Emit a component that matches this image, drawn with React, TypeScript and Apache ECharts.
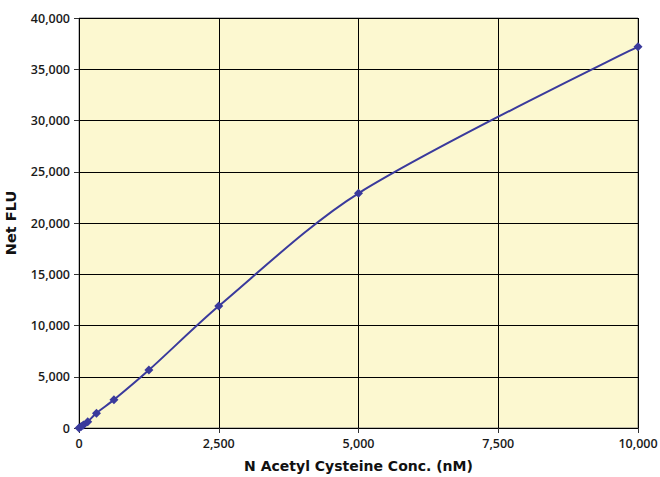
import React, { useEffect, useRef } from "react";
import * as echarts from "echarts";

const concentrations = [0, 39, 78, 156, 312.5, 625, 1250, 2500, 5000, 10000];
const netFlu = [0, 150, 300, 620, 1450, 2750, 5650, 11900, 22900, 37200];
const xTicks = [0, 2500, 5000, 7500, 10000];
const yTicks = [0, 5000, 10000, 15000, 20000, 25000, 30000, 35000, 40000];

const fmt = (v: number) => v.toLocaleString("en-US");

export default function App() {
  const ref = useRef<HTMLDivElement>(null);
  useEffect(() => {
    if (!ref.current) return;
    const chart = echarts.init(ref.current, null, { renderer: "svg" });
    const font = "'Open Sans', Lato, sans-serif";
    const titleFont = "'DejaVu Sans', 'Open Sans', sans-serif";
    chart.setOption({
      animation: false,
      grid: {
        left: 79,
        top: 18,
        right: 22,
        bottom: 49,
        containLabel: false,
        outerBoundsMode: "none",
        show: true,
        backgroundColor: "#fcf8d0",
        borderColor: "#808080",
        borderWidth: 1,
      },
      xAxis: {
        type: "value",
        min: xTicks[0],
        max: xTicks[xTicks.length - 1],
        interval: 2500,
        name: "N Acetyl Cysteine Conc. (nM)",
        nameLocation: "middle",
        nameGap: 31,
        nameTextStyle: { fontFamily: titleFont, fontSize: 14, fontWeight: "bold", color: "#111" },
        axisLine: { show: false },
        axisTick: { show: true, length: 5, lineStyle: { color: "#333" } },
        axisLabel: { fontFamily: font, fontSize: 12.5, fontWeight: 600, color: "#1a1a1a", margin: 9, formatter: (v: number) => fmt(v) },
        splitLine: { show: true, lineStyle: { color: "#000", width: 1 } },
      },
      yAxis: {
        type: "value",
        min: yTicks[0],
        max: yTicks[yTicks.length - 1],
        interval: 5000,
        name: "Net FLU",
        nameLocation: "middle",
        nameGap: 61,
        nameRotate: 90,
        nameTextStyle: { fontFamily: titleFont, fontSize: 14.5, fontWeight: "bold", color: "#111" },
        axisLine: { show: false },
        axisTick: { show: true, length: 5, lineStyle: { color: "#333" } },
        axisLabel: { fontFamily: font, fontSize: 12.5, fontWeight: 600, color: "#1a1a1a", margin: 9, formatter: (v: number) => fmt(v) },
        splitLine: { show: true, lineStyle: { color: "#000", width: 1 } },
      },
      series: [
        {
          type: "line",
          data: concentrations.map((c, i) => [c, netFlu[i]]),
          smooth: 0.3,
          symbol: "diamond",
          symbolSize: 9,
          lineStyle: { color: "#3a3a9c", width: 2 },
          itemStyle: { color: "#3a3a9c" },
        },
      ],
    });
    return () => chart.dispose();
  }, []);
  return (
    <div
      ref={ref}
      style={{ position: "absolute", left: 0, top: 0, width: 660, height: 477 }}
    />
  );
}
